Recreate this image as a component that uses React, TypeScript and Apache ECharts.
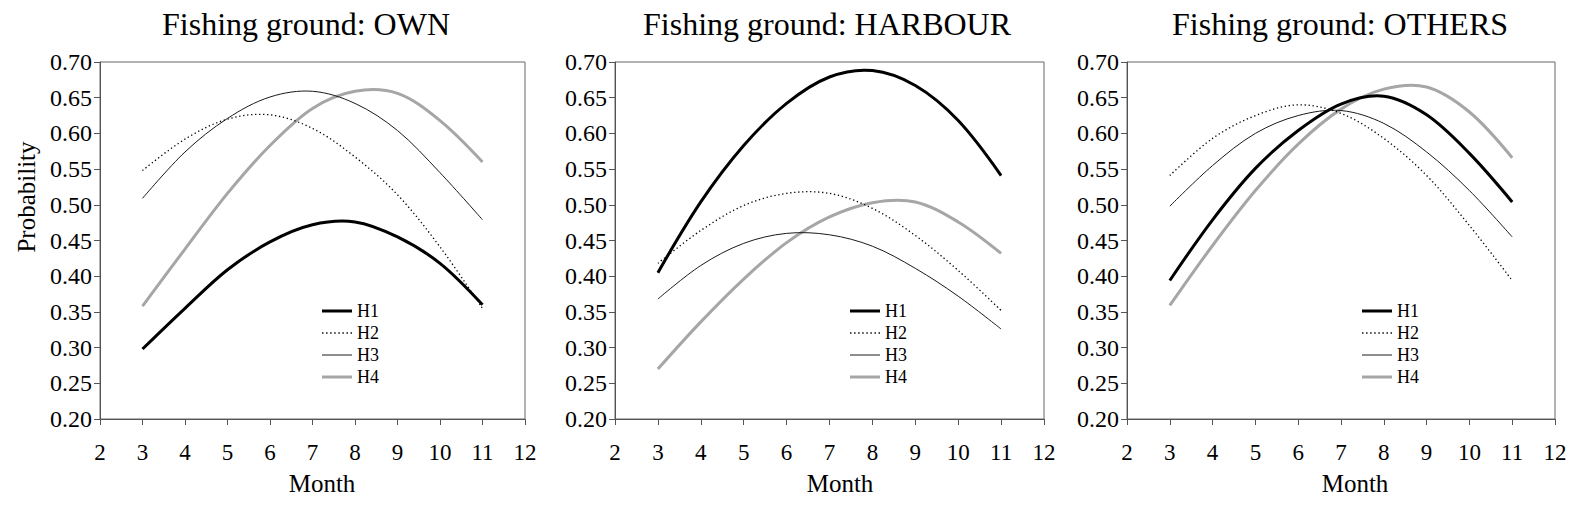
import React, { useEffect, useRef } from "react";
import * as echarts from "echarts";

const months = [3, 4, 5, 6, 7, 8, 9, 10, 11];
const xTicks = [2, 3, 4, 5, 6, 7, 8, 9, 10, 11, 12];
const seriesNames = ["H1", "H2", "H3", "H4"];
const panelTitles = ["Fishing ground: OWN", "Fishing ground: HARBOUR", "Fishing ground: OTHERS"];

// OWN
const ownH1 = [0.298, 0.355, 0.409, 0.448, 0.472, 0.476, 0.455, 0.418, 0.36];
const ownH2 = [0.548, 0.592, 0.62, 0.626, 0.607, 0.567, 0.514, 0.441, 0.355];
const ownH3 = [0.509, 0.574, 0.621, 0.651, 0.659, 0.642, 0.604, 0.545, 0.479];
const ownH4 = [0.358, 0.438, 0.516, 0.583, 0.635, 0.659, 0.656, 0.618, 0.56];
// HARBOUR
const harH1 = [0.405, 0.504, 0.583, 0.642, 0.679, 0.688, 0.667, 0.618, 0.541];
const harH2 = [0.418, 0.464, 0.499, 0.516, 0.516, 0.495, 0.457, 0.408, 0.352];
const harH3 = [0.368, 0.415, 0.446, 0.46, 0.458, 0.442, 0.411, 0.372, 0.326];
const harH4 = [0.27, 0.336, 0.396, 0.447, 0.483, 0.503, 0.504, 0.476, 0.432];
// OTHERS
const othH1 = [0.394, 0.479, 0.551, 0.604, 0.641, 0.652, 0.626, 0.572, 0.504];
const othH2 = [0.541, 0.593, 0.625, 0.64, 0.628, 0.593, 0.541, 0.471, 0.394];
const othH3 = [0.498, 0.555, 0.6, 0.625, 0.632, 0.614, 0.574, 0.52, 0.455];
const othH4 = [0.359, 0.443, 0.52, 0.585, 0.634, 0.662, 0.665, 0.63, 0.566];

const panels = [
  [ownH1, ownH2, ownH3, ownH4],
  [harH1, harH2, harH3, harH4],
  [othH1, othH2, othH3, othH4],
];

const FONT = "'Liberation Serif', 'Times New Roman', serif";

const grids = [
  { left: 100, width: 425 },
  { left: 615, width: 429 },
  { left: 1127, width: 428 },
];
const titleX = [306, 827, 1340];
const monthX = [322, 840, 1355];
const legendLeft = [322, 850, 1362];

const lineStyles = [
  { color: "#000000", width: 3, dash: null as number[] | null },
  { color: "#000000", width: 1.3, dash: [1.3, 2.7] },
  { color: "#1a1a1a", width: 1, dash: null },
  { color: "#a6a6a6", width: 3, dash: null },
];

function dotsPath() {
  let d = "path://";
  for (let i = 0; i < 8; i++) {
    const x = i * 4;
    d += `M${x},0H${x + 1.4}V1.3H${x}Z`;
  }
  return d;
}
const legendIcons = [
  "path://M0,0H30V3H0Z",
  dotsPath(),
  "path://M0,0H30V1H0Z",
  "path://M0,0H30V3H0Z",
];

export default function App() {
  const ref = useRef<HTMLDivElement>(null);
  useEffect(() => {
    document.body.style.margin = "0";
    const chart = echarts.init(ref.current!, null, { renderer: "svg" });
    const series: any[] = [];
    panels.forEach((p, pi) => {
      p.forEach((vals, si) => {
        const ls = lineStyles[si];
        series.push({
          name: seriesNames[si],
          type: "custom",
          coordinateSystem: "cartesian2d",
          xAxisIndex: pi,
          yAxisIndex: pi,
          itemStyle: { color: ls.color },
          encode: { x: 0, y: 1 },
          data: months.map((m, j) => [m, vals[j]]),
          z: 4 - si,
          renderItem: (params: any, api: any) => {
            if (params.dataIndex !== 0) return null;
            const pts = months.map((m, j) => api.coord([m, vals[j]]));
            return {
              type: "polyline",
              shape: { points: pts, smooth: 0.34 },
              style: {
                stroke: ls.color,
                lineWidth: ls.width,
                lineDash: ls.dash || undefined,
                fill: null,
              },
            };
          },
        });
      });
    });
    const option: any = {
      animation: false,
      backgroundColor: "#ffffff",
      grid: grids.map((g) => ({
        left: g.left,
        width: g.width,
        top: 62,
        height: 357,
        show: true,
        borderColor: "#666",
        borderWidth: 1,
        backgroundColor: "transparent",
      })),
      xAxis: grids.map((_, i) => ({
        type: "value",
        gridIndex: i,
        min: xTicks[0],
        max: xTicks[xTicks.length - 1],
        interval: 1,
        axisLine: { show: true, lineStyle: { color: "#555", width: 1 } },
        axisTick: { show: true, inside: false, length: 6, lineStyle: { color: "#555" } },
        axisLabel: { color: "#000", fontFamily: FONT, fontSize: 23, margin: 22 },
        splitLine: { show: false },
      })),
      yAxis: grids.map((_, i) => ({
        type: "value",
        gridIndex: i,
        min: 0.2,
        max: 0.7,
        interval: 0.05,
        axisLine: { show: true, lineStyle: { color: "#555", width: 1 } },
        axisTick: { show: true, inside: false, length: 6, lineStyle: { color: "#555" } },
        axisLabel: {
          color: "#000",
          fontFamily: FONT,
          fontSize: 24,
          margin: 8,
          formatter: (v: number) => v.toFixed(2),
        },
        splitLine: { show: false },
      })),
      legend: legendLeft.map((l) => ({
        data: seriesNames.map((n, i) => ({ name: n, icon: legendIcons[i] })),
        orient: "vertical",
        left: l,
        top: 302,
        itemWidth: 30,
        itemHeight: 14,
        itemGap: 4,
        padding: 0,
        selectedMode: false,
        textStyle: { color: "#000", fontFamily: FONT, fontSize: 18 },
      })),
      graphic: [
        ...panelTitles.map((t, i) => ({
          type: "text",
          x: titleX[i],
          y: 24,
          style: { text: t, font: `32px ${FONT}`, fill: "#000", align: "center", verticalAlign: "middle" },
        })),
        ...monthX.map((x) => ({
          type: "text",
          x,
          y: 483,
          style: { text: "Month", font: `25px ${FONT}`, fill: "#000", align: "center", verticalAlign: "middle" },
        })),
        {
          type: "text",
          x: 26,
          y: 197,
          rotation: Math.PI / 2,
          style: { text: "Probability", font: `25px ${FONT}`, fill: "#000", align: "center", verticalAlign: "middle" },
        },
      ],
      series,
    };
    chart.setOption(option);
    return () => chart.dispose();
  }, []);
  return <div ref={ref} style={{ width: 1575, height: 509 }} />;
}
